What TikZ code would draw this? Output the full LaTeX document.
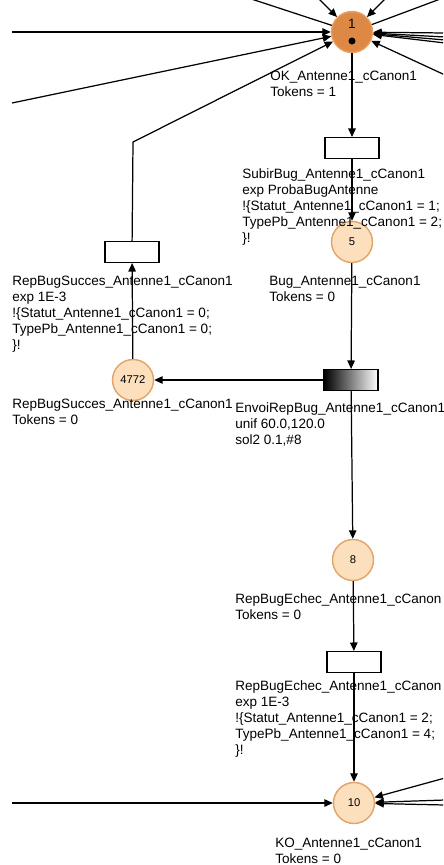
\documentclass[tikz,border=0pt]{standalone}
\usepackage{fontspec}
\setmainfont{Liberation Sans}
\usetikzlibrary{arrows.meta}
\definecolor{Peach}{HTML}{FCDFBD}
\definecolor{PeachLine}{HTML}{E2A468}
\definecolor{Amber}{HTML}{DD8945}
\definecolor{AmberLine}{HTML}{E8A062}
\newcommand{\petri}{\fontsize{7.7}{9.1}\selectfont}
\newcommand{\petrinum}{\fontsize{6.4}{7.7}\selectfont}
\tikzset{
  >={Triangle[length=1.7mm,width=1.5mm]},
  place/.style={circle,draw=PeachLine,line width=.8pt,fill=Peach,minimum size=8.2mm,inner sep=0pt,font=\petrinum},
  marked/.style={place,fill=Amber,draw=AmberLine},
  trans/.style={draw=black,line width=.6pt,fill=white,minimum width=10.8mm,minimum height=4.2mm,inner sep=0pt},
  timed/.style={trans,left color=black,right color=white},
  arc/.style={->,line width=.7pt,draw=black},
  lab/.style={anchor=base west,align=left,inner sep=0pt,font=\petri}
}

\begin{document}
\begin{tikzpicture}[x=0.02cm,y=-0.02cm]
  \clip (0,0) rectangle (443,865);
  % places
  \node[marked] (ok) at (352,32) {};
  \node[font=\petri] (okone) at (352,24) {1};
  \fill (352,41) circle (2pt);
  \node[place] (bug) at (352,242) {5};
  \node[place] (succ) at (133,380) {4772};
  \node[place] (echec) at (353,560) {8};
  \node[place] (ko) at (354,803) {10};
  % transitions
  \node[trans] (subir) at (352,148) {};
  \node[trans] (repsucc) at (132,252) {};
  \node[timed] (envoi) at (351,380) {};
  \node[trans] (repechec) at (354,662) {};
  % labels (anchored on the baseline of their last line)
  \node[lab] (okl) at (270,96) {OK\_Antenne1\_cCanon1\\Tokens = 1};
  \node[lab] (subirl) at (242,242) {SubirBug\_Antenne1\_cCanon1\\exp ProbaBugAntenne\\!\{Statut\_Antenne1\_cCanon1 = 1;\\TypePb\_Antenne1\_cCanon1 = 2;\\\}!};
  \node[lab] (bugl) at (269,301) {Bug\_Antenne1\_cCanon1\\Tokens = 0};
  \node[lab] (repsuccl) at (12,349) {RepBugSucces\_Antenne1\_cCanon1\\exp 1E-3\\!\{Statut\_Antenne1\_cCanon1 = 0;\\TypePb\_Antenne1\_cCanon1 = 0;\\\}!};
  \node[lab] (succl) at (12,424) {RepBugSucces\_Antenne1\_cCanon1\\Tokens = 0};
  \node[lab] (envoil) at (235,444) {EnvoiRepBug\_Antenne1\_cCanon1\\unif 60.0,120.0\\sol2 0.1,\#8};
  \node[lab] (echecl) at (235,619) {RepBugEchec\_Antenne1\_cCanon\\Tokens = 0};
  \node[lab] (repechecl) at (235,754) {RepBugEchec\_Antenne1\_cCanon\\exp 1E-3\\!\{Statut\_Antenne1\_cCanon1 = 2;\\TypePb\_Antenne1\_cCanon1 = 4;\\\}!};
  \node[lab] (kol) at (275,863) {KO\_Antenne1\_cCanon1\\Tokens = 0};
  % arcs
  \draw[arc] (ok) -- (subir);
  \draw[arc] (subir) -- (bug);
  \draw[arc] (bug) -- (envoi);
  \draw[arc] (envoi) -- (succ);
  \draw[arc] (envoi) -- (echec);
  \draw[arc] (echec) -- (repechec);
  \draw[arc] (repechec) -- (ko);
  \draw[arc] (succ) -- (repsucc);
  \coordinate (bend) at (133,142);
  \draw[arc] (repsucc) -- (bend) -- (ok);
  % arcs cut by the frame
  \coordinate (inw) at (12,32);
  \coordinate (inwlow) at (12,103);
  \coordinate (intl) at (318,-2);
  \coordinate (intr) at (386,-2);
  \coordinate (outtl) at (230,-8);
  \coordinate (outtr) at (459,-8);
  \draw[arc] (inw) -- (ok);
  \draw[arc] (inwlow) -- (ok);
  \draw[arc] (intl) -- (ok);
  \draw[arc] (intr) -- (ok);
  \draw[arc] (ok) -- (outtl);
  \draw[arc] (ok) -- (outtr);
  \foreach \y [count=\i] in {33,37,40,43,75} {
    \coordinate (ine\i) at (445,\y);
    \draw[arc] (ine\i) -- (ok);
  }
  \coordinate (kow) at (12,803);
  \draw[arc] (kow) -- (ko);
  \foreach \y [count=\i] in {778,800,805} {
    \coordinate (koe\i) at (445,\y);
    \draw[arc] (koe\i) -- (ko);
  }
\end{tikzpicture}
\end{document}
